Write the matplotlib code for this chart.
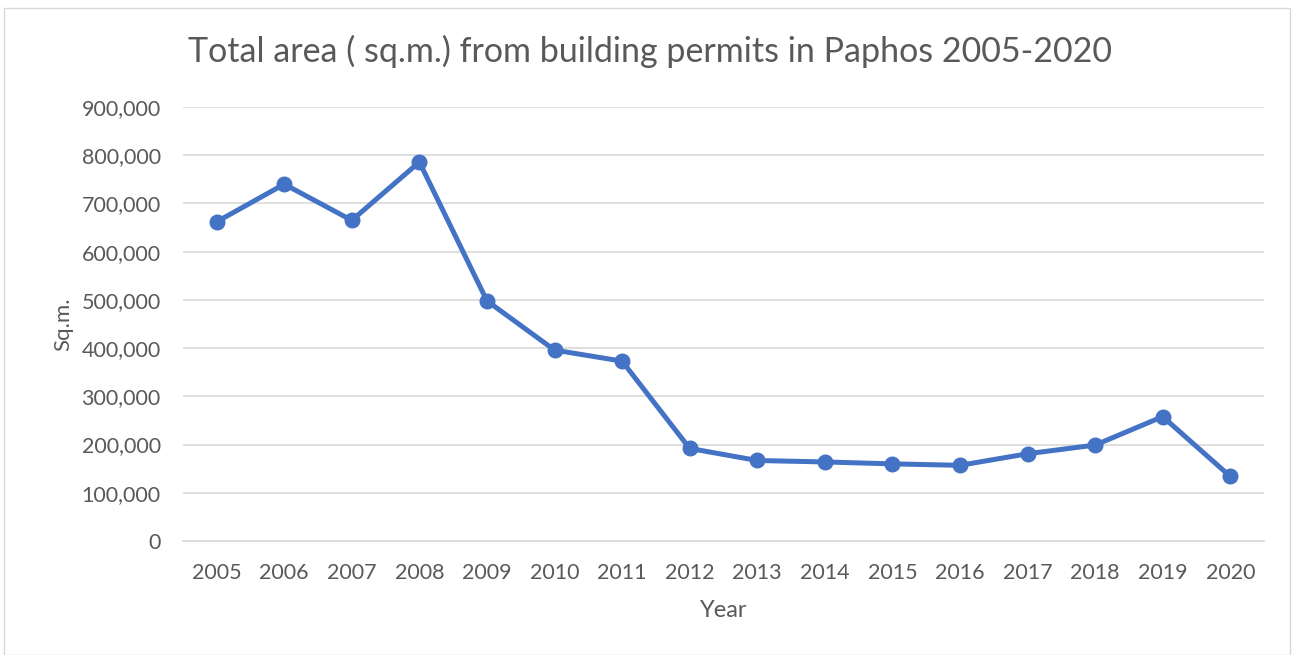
import matplotlib.pyplot as plt
from matplotlib.patches import Rectangle
from matplotlib.ticker import FuncFormatter

years = ["2005", "2006", "2007", "2008", "2009", "2010", "2011", "2012",
         "2013", "2014", "2015", "2016", "2017", "2018", "2019", "2020"]
area = [662000, 740000, 665000, 786000, 498000, 396000, 373000, 192000,
        167000, 164000, 160000, 157000, 181000, 199000, 258000, 134000]
y_ticks = [0, 100000, 200000, 300000, 400000, 500000, 600000, 700000, 800000, 900000]

plt.rcParams['font.family'] = ['Lato', 'DejaVu Sans']
text_col = "#595959"

fig = plt.figure(figsize=(12.97, 6.55), dpi=100)
ax = fig.add_axes([0.141, 0.174, 0.8336, 0.6626])

x = list(range(len(years)))
ax.plot(x, area, color="#4472C4", linewidth=3.6, marker="o", markersize=10.5,
        solid_joinstyle="round", zorder=3)

ax.set_xlim(-0.5, len(years) - 0.5)
ax.set_ylim(0, 900000)
ax.set_yticks(y_ticks)
ax.yaxis.set_major_formatter(FuncFormatter(lambda v, p: f"{int(v):,}"))
ax.set_xticks(x)
ax.set_xticklabels(years)
ax.grid(axis="y", color="#D9D9D9", linewidth=1.2, zorder=0)
for s in ["top", "right", "left"]:
    ax.spines[s].set_visible(False)
ax.spines["bottom"].set_color("#D9D9D9")
ax.spines["bottom"].set_linewidth(1.2)
ax.tick_params(length=0, labelsize=15.5, labelcolor=text_col)
ax.tick_params(axis="y", pad=16)
ax.tick_params(axis="x", pad=16)

ax.set_xlabel("Year", fontsize=17, color=text_col, labelpad=12)
ax.set_ylabel("Sq.m.", fontsize=16, color=text_col, labelpad=6)
fig.text(0.501, 0.922, "Total area ( sq.m.) from building permits in Paphos 2005-2020",
         ha="center", va="center", fontsize=24.5, color=text_col)

fig.patches.append(Rectangle((4 / 1297, 0), 1286 / 1297, 1 - 8 / 655,
                             transform=fig.transFigure, fill=False,
                             edgecolor="#D9D9D9", linewidth=1))

fig.savefig("out.png", dpi=100)
